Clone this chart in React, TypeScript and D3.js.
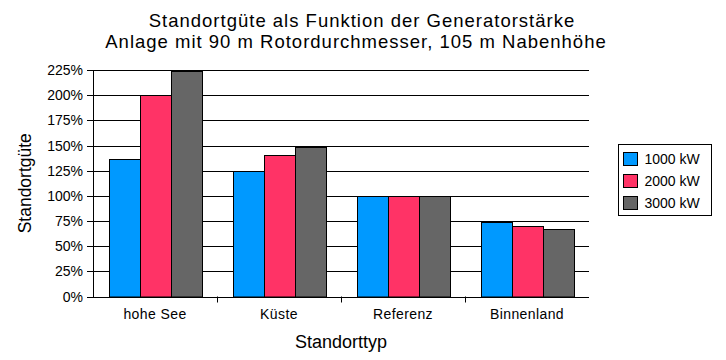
import React from 'react'
import * as d3 from 'd3'

const categories = ['hohe See', 'Küste', 'Referenz', 'Binnenland']
const seriesNames = ['1000 kW', '2000 kW', '3000 kW']
const series1000 = [137, 125, 100, 74]
const series2000 = [200, 141, 100, 70]
const series3000 = [224, 149, 100, 67]
const yTicks = [0, 25, 50, 75, 100, 125, 150, 175, 200, 225]
const colors = ['#0099FF', '#FF3366', '#666666']

const font = '"Liberation Sans", Arial, sans-serif'

export default function App() {
  const width = 726
  const height = 360
  const margin = { top: 70, right: 137, bottom: 63.5, left: 93 }
  const innerW = width - margin.left - margin.right
  const innerH = height - margin.top - margin.bottom

  const x = d3.scaleBand<string>().domain(categories).range([0, innerW])
  const x1 = d3.scaleBand<string>().domain(seriesNames).range([0, x.bandwidth()]).paddingOuter(0.5)
  const y = d3.scaleLinear().domain([0, 225]).range([innerH, 0])

  const values = [series1000, series2000, series3000]

  return (
    <svg width={width} height={height} style={{ position: 'absolute', left: 0, top: 0, fontFamily: font }}>
      <rect width={width} height={height} fill="white" />
      {/* title, two lines set tight like the original */}
      <text x={362} y={26.5} textAnchor="middle" fontSize={18.5} letterSpacing={1}>Standortgüte als Funktion der Generatorstärke</text>
      <text x={356} y={48} textAnchor="middle" fontSize={18.5} letterSpacing={1}>Anlage mit 90 m Rotordurchmesser, 105 m Nabenhöhe</text>

      <g transform={`translate(${margin.left},${margin.top})`}>
        {yTicks.map(t => (
          <g key={t} transform={`translate(0,${Math.round(y(t)) + 0.5})`}>
            {t > 0 && <line x1={0} x2={innerW} stroke="black" strokeWidth={1} />}
            <line x1={-6} x2={0} stroke="black" />
            <text x={-10} dy="0.35em" textAnchor="end" fontSize={14}>{t}%</text>
          </g>
        ))}

        {categories.map((c, i) => (
          <g key={c} transform={`translate(${x(c)},0)`}>
            {values.map((vals, s) => {
              const yy = Math.round(y(vals[i]))
              return (
                <rect key={s} x={Math.round(x1(seriesNames[s])!) + 0.5} y={yy + 0.5}
                  width={Math.round(x1.bandwidth())} height={innerH - yy}
                  fill={colors[s]} stroke="black" strokeWidth={1} />
              )
            })}
            <text x={x.bandwidth() / 2} y={innerH + 22} textAnchor="middle" fontSize={14} letterSpacing={0.4}>{c}</text>
          </g>
        ))}

        {categories.slice(0, -1).map(c => (
          <line key={c} x1={Math.round(x(c)! + x.bandwidth()) + 0.5} x2={Math.round(x(c)! + x.bandwidth()) + 0.5}
            y1={innerH} y2={innerH + 6} stroke="black" />
        ))}
        <line x1={0.5} x2={0.5} y1={0} y2={innerH + 1} stroke="black" />
        <line x1={0} x2={innerW} y1={Math.round(innerH) + 0.5} y2={Math.round(innerH) + 0.5} stroke="black" />

        <text x={innerW / 2} y={innerH + 51} textAnchor="middle" fontSize={18}>Standorttyp</text>
        <text transform={`translate(-62,${innerH / 2}) rotate(-90)`} textAnchor="middle" fontSize={17.5}>Standortgüte</text>
      </g>

      <g transform="translate(618.5,144.5)">
        <rect width={93} height={71} fill="white" stroke="black" />
        <g>
          {seriesNames.map((n, i) => (
            <g key={n} transform={`translate(5,${8 + i * 22})`}>
              <rect width={14} height={13} fill={colors[i]} stroke="black" />
              <text x={21} y={11.5} fontSize={14}>{n}</text>
            </g>
          ))}
        </g>
      </g>
    </svg>
  )
}
